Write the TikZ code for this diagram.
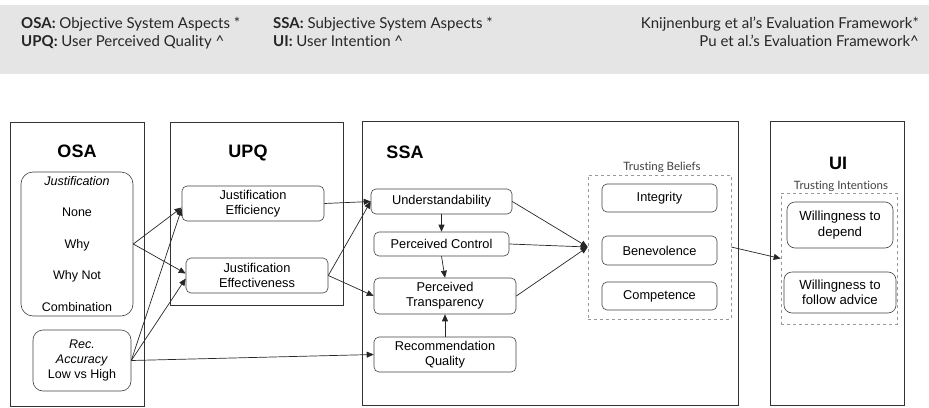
\documentclass[tikz,border=0pt]{standalone}
\usepackage{fontspec}
\setmainfont{Liberation Sans}
\newfontfamily\latofont[Ligatures={NoCommon,NoRequired,NoContextual}]{Lato}
\usetikzlibrary{arrows.meta,calc}
\begin{document}
\begin{tikzpicture}[x=1pt,y=-1pt,
  frame/.style={draw=black!80,line width=0.9pt},
  item/.style={draw=black!75,line width=0.6pt,rounded corners=5pt,align=center,inner sep=0pt,font=\fontsize{12.8}{15}\selectfont},
  dbox/.style={draw=black!40,dashed,line width=0.6pt,inner sep=0pt},
  title/.style={font=\fontsize{18}{20}\selectfont\bfseries,inner sep=0pt},
  ltxt/.style={font=\fontsize{12.5}{15}\selectfont,inner sep=0pt},
  glab/.style={font=\latofont\fontsize{11.5}{13}\selectfont,text=black!75,inner sep=0pt},
  hdr/.style={font=\latofont\fontsize{15}{18}\selectfont,text=black!85,inner sep=0pt,align=left},
  arr/.style={-{Triangle[length=7pt,width=6pt]},line width=0.7pt,black!85}]
\useasboundingbox (0,0) rectangle (929,407);
% header band
\fill[black!10] (0,5) rectangle (929,74);
\node[hdr,anchor=base west] (h1) at (21,46.5) {\textbf{OSA:} Objective System Aspects *\\\textbf{UPQ:} User Perceived Quality \^{}};
\node[hdr,anchor=base west] (h2) at (273,46.5) {\textbf{SSA:} Subjective System Aspects *\\\textbf{UI:} User Intention \^{}};
\node[hdr,anchor=base east,align=right] (h3) at (919,46.5) {Knijnenburg et al’s Evaluation Framework*\\Pu et al.’s Evaluation Framework\^{}};
% frames
\draw[frame] (10,122) rectangle (144,406);
\draw[frame] (170,122) rectangle (343,305);
\draw[frame] (362,121) rectangle (738,405);
\draw[frame] (770,121) rectangle (904,405);
\node[title] (tosa) at (77,151) {OSA};
\node[title] (tupq) at (248,153) {UPQ};
\node[title] (tssa) at (405,152) {SSA};
\node[title] (tui) at (838,163) {UI};
% OSA content
\node[item,minimum width=112pt,minimum height=144pt,rounded corners=12pt] (just) at (77,244) {};
\node[ltxt,font=\fontsize{12.5}{15}\selectfont\itshape] (jt) at (77,181) {Justification};
\node[ltxt] (n1) at (77,212) {None};
\node[ltxt] (n2) at (77,245) {Why};
\node[ltxt] (n3) at (77,276) {Why Not};
\node[ltxt] (n4) at (77,307) {Combination};
\node[item,minimum width=98pt,minimum height=61pt,rounded corners=10pt,font=\fontsize{12.5}{15}\selectfont] (rac) at (82,360.5) {\textit{Rec.}\\\textit{Accuracy}\\Low vs High};
% UPQ content
\node[item,minimum width=142pt,minimum height=35pt] (je) at (253,203.5) {Justification\\Efficiency};
\node[item,minimum width=142pt,minimum height=35pt] (ef) at (257,275.5) {Justification\\Effectiveness};
% SSA content
\node[item,minimum width=141pt,minimum height=25pt] (und) at (441.5,201.5) {Understandability};
\node[item,minimum width=135pt,minimum height=24pt] (pc) at (441.5,244) {Perceived Control};
\node[item,minimum width=142pt,minimum height=36pt] (pt) at (445,296) {Perceived\\Transparency};
\node[item,minimum width=142pt,minimum height=35pt] (rq) at (445,354.5) {Recommendation\\Quality};
% Trusting beliefs
\node[dbox,minimum width=143pt,minimum height=144pt] (tb) at (659.5,247) {};
\node[glab] (tbl) at (662,167) {Trusting Beliefs};
\node[item,minimum width=115pt,minimum height=28pt] (integ) at (659.5,198) {Integrity};
\node[item,minimum width=115pt,minimum height=29pt] (bene) at (659.5,250.5) {Benevolence};
\node[item,minimum width=115pt,minimum height=28pt] (comp) at (659.5,296) {Competence};
% UI
\node[glab] (til) at (841,186) {Trusting Intentions};
\node[dbox,minimum width=116pt,minimum height=131pt] (ti) at (839,258.5) {};
\node[item,minimum width=106pt,minimum height=46pt,rounded corners=8pt,font=\fontsize{13.2}{15.5}\selectfont] (wd) at (840,225) {Willingness to\\depend};
\node[item,minimum width=112pt,minimum height=41pt,rounded corners=8pt,font=\fontsize{13.2}{15.5}\selectfont] (wf) at (840,292.5) {Willingness to\\follow advice};
% connectors
\draw[arr] (just.east) -- ($(je.west)+(0,4)$);
\draw[arr] (just.east) -- ($(ef.west)+(0,-2)$);
\draw[arr] (rac.east) -- ($(je.west)+(0,5)$);
\draw[arr] (rac.east) -- ($(ef.west)+(0,3)$);
\draw[arr] (rac.east) -- (rq.west);
\draw[arr] (je.east) -- (und.west);
\draw[arr] (ef.east) -- (und.west);
\draw[arr] (ef.east) -- (pt.west);
\draw[arr] (und.south) -- (pc.north);
\draw[arr] (pc.south) -- (pt.north);
\draw[arr] (rq.north) -- (pt.south);
\draw[arr] (und.east) -- (tb.west);
\draw[arr] (pc.east) -- (tb.west);
\draw[arr] (pt.east) -- (tb.west);
\draw[arr] (tb.east) -- (ti.west);
\end{tikzpicture}
\end{document}
